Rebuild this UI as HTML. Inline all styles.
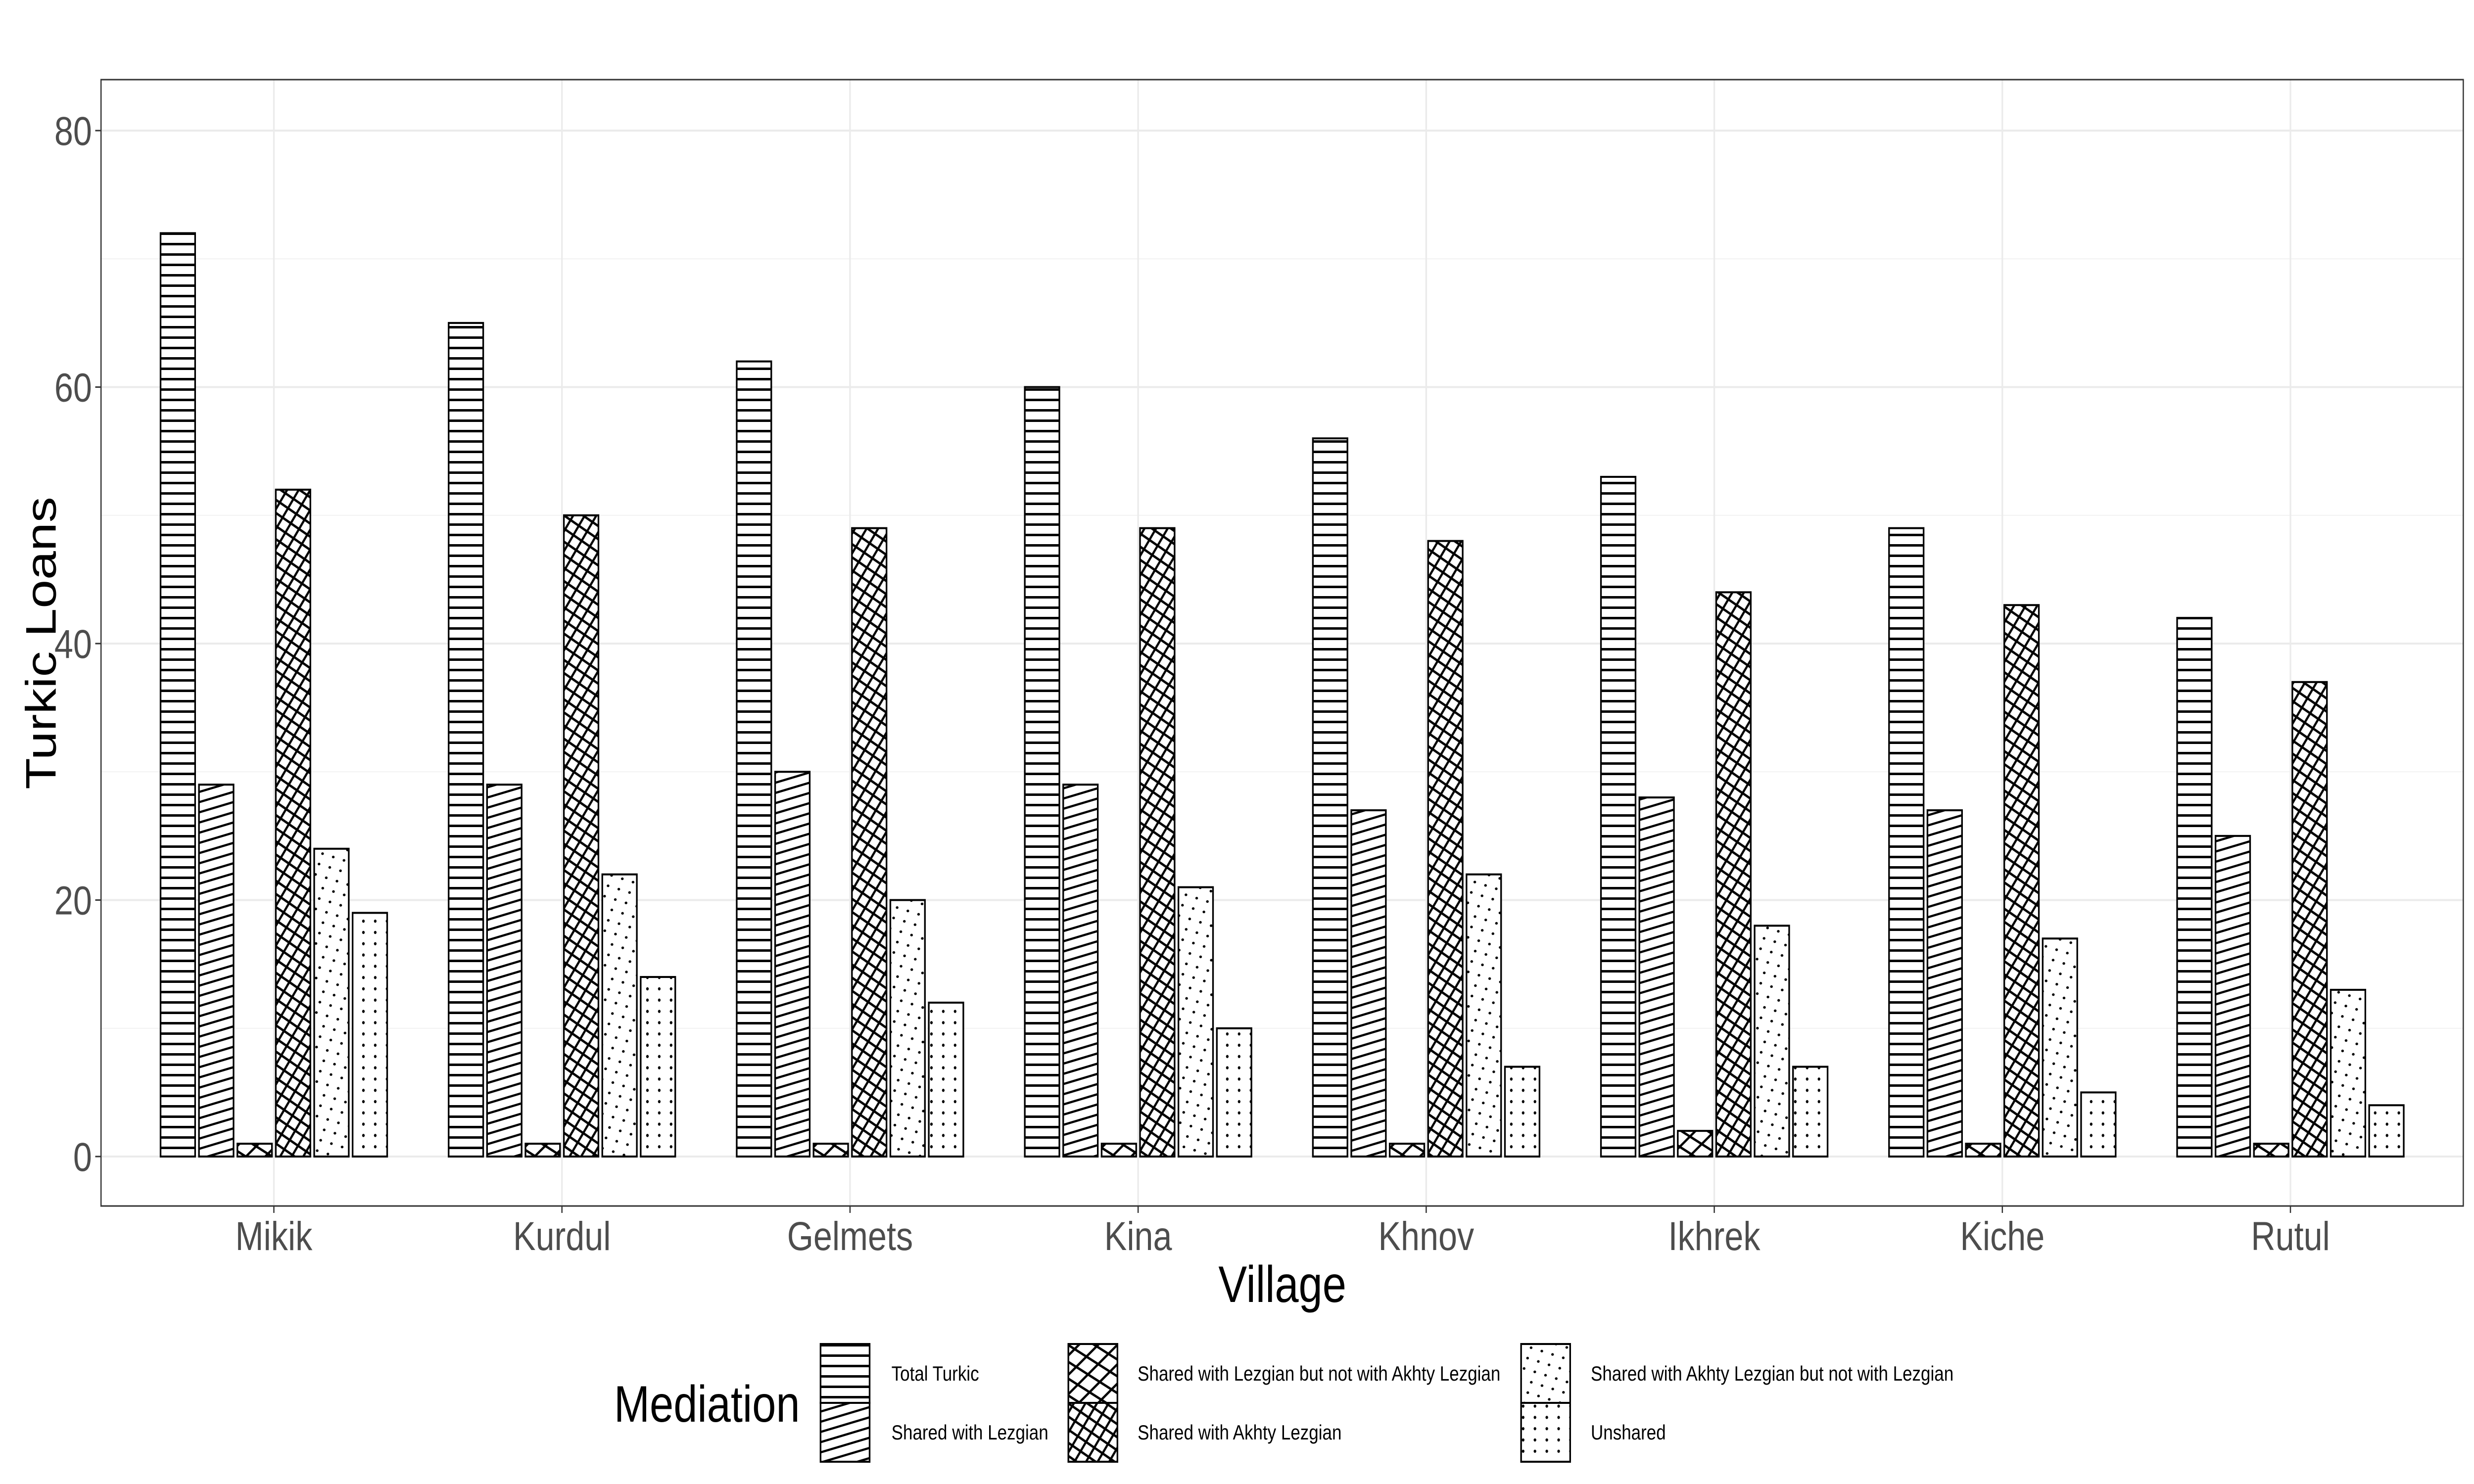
<!DOCTYPE html>
<html><head><meta charset="utf-8"><style>
html,body{margin:0;padding:0;background:#fff;overflow:hidden;width:100vw;height:100vh;}
svg{display:block;font-family:"Liberation Sans",sans-serif;width:100vw;height:100vh;}
</style></head><body>
<svg id="chart" viewBox="0 0 6000 3000" preserveAspectRatio="none" xmlns="http://www.w3.org/2000/svg">
<defs>
<pattern id="p0" patternUnits="userSpaceOnUse" width="40" height="21"><rect width="40" height="21" fill="#fff"/><rect y="8" width="40" height="5" fill="#000"/></pattern>
<pattern id="p1" patternUnits="userSpaceOnUse" width="40" height="20" patternTransform="rotate(-14)"><rect width="40" height="20" fill="#fff"/><rect y="8" width="40" height="4.5" fill="#000"/></pattern>
<pattern id="p2a" patternUnits="userSpaceOnUse" width="40" height="30" patternTransform="rotate(-40)"><rect y="12" width="40" height="5" fill="#000"/></pattern>
<pattern id="p2b" patternUnits="userSpaceOnUse" width="40" height="30" patternTransform="rotate(28)"><rect y="12" width="40" height="5" fill="#000"/></pattern>
<pattern id="p3a" patternUnits="userSpaceOnUse" width="40" height="23" patternTransform="rotate(-55)"><rect y="9" width="40" height="5" fill="#000"/></pattern>
<pattern id="p3b" patternUnits="userSpaceOnUse" width="40" height="23" patternTransform="rotate(30)"><rect y="9" width="40" height="5" fill="#000"/></pattern>
<pattern id="p4" patternUnits="userSpaceOnUse" width="1" height="1" patternTransform="matrix(26,6.8,-8.5,21,0,0)"><rect width="1" height="1" fill="#fff"/><circle cx="0.5" cy="0.5" r="0.12" fill="#000"/></pattern>
<pattern id="p5" patternUnits="userSpaceOnUse" width="28.7" height="22.8" x="6" y="4"><rect width="28.7" height="22.8" fill="#fff"/><circle cx="14.35" cy="11.4" r="3.2" fill="#000"/></pattern>
</defs>
<rect width="6000" height="3000" fill="#fff"/>
<g id="grid"></g>
<g id="bars"></g>
<rect x="245" y="161" width="5729" height="2277" fill="none" stroke="#333" stroke-width="3"/>
<g id="axes"></g>
<text transform="translate(135,1300) rotate(-90)" text-anchor="middle" font-size="104" fill="#000">Turkic Loans</text>
<text x="3110" y="2632" text-anchor="middle" font-size="104" fill="#000">Village</text>
<g id="legend">
<text x="1489" y="2874" font-size="104" fill="#000">Mediation</text>
</g>
</svg>
<script>
const villages = ["Mikik","Kurdul","Gelmets","Kina","Khnov","Ikhrek","Kiche","Rutul"];
const seriesNames = ["Total Turkic","Shared with Lezgian","Shared with Lezgian but not with Akhty Lezgian","Shared with Akhty Lezgian","Shared with Akhty Lezgian but not with Lezgian","Unshared"];
const totalTurkic = [72,65,62,60,56,53,49,42];
const sharedLezgian = [29,29,30,29,27,28,27,25];
const sharedLezNotAkhty = [1,1,1,1,1,2,1,1];
const sharedAkhty = [52,50,49,49,48,44,43,37];
const sharedAkhtyNotLez = [24,22,20,21,22,18,17,13];
const unshared = [19,14,12,10,7,7,5,4];
const yTicks = [0,20,40,60,80];
const yMinor = [10,30,50,70];

const series = [totalTurkic, sharedLezgian, sharedLezNotAkhty, sharedAkhty, sharedAkhtyNotLez, unshared];
const NS = "http://www.w3.org/2000/svg";
const L=245, R=5974, T=161, B=2438;
const y0px=2338, y80px=264;
function yScale(v){ return y0px + (y80px-y0px)*v/80; }
const unit=(R-L)/8.2;
function xScale(i){ return L + (i+1-0.4)*unit; }
const slot = unit*0.8/6, bw = slot*0.9;
function mk(tag, attrs, parent){ const e=document.createElementNS(NS,tag); for(const k in attrs) e.setAttribute(k,attrs[k]); parent.appendChild(e); return e; }

const grid=document.getElementById('grid');
yMinor.forEach(v=>{ const l=mk('line',{x1:L,x2:R,y1:yScale(v),y2:yScale(v),stroke:'#f2f2f2','stroke-width':2},grid);

 });
yTicks.forEach(v=>{ const l=mk('line',{x1:L,x2:R,y1:yScale(v),y2:yScale(v),stroke:'#ebebeb','stroke-width':4},grid);

 });
villages.forEach((v,i)=>{ const l=mk('line',{x1:xScale(i),x2:xScale(i),y1:T,y2:B,stroke:'#ebebeb','stroke-width':4},grid);

 });

const bars=document.getElementById('bars');
function fillPattern(j, g, x, y, w, h){
  if(j===2||j===3){
    const a = j===2?'p2a':'p3a', b = j===2?'p2b':'p3b';
    mk('rect',{x:x,y:y,width:w,height:h,fill:'#fff'},g);
    mk('rect',{x:x,y:y,width:w,height:h,fill:'url(#'+a+')'},g);
    mk('rect',{x:x,y:y,width:w,height:h,fill:'url(#'+b+')'},g);
  } else {
    mk('rect',{x:x,y:y,width:w,height:h,fill:'url(#p'+j+')'},g);
  }
  mk('rect',{x:x,y:y,width:w,height:h,fill:'none',stroke:'#000','stroke-width':4},g);
}
villages.forEach((vname,i)=>{
  series.forEach((s,j)=>{
    const cx = xScale(i) + (j-2.5)*slot;
    const yt = yScale(s[i]);
    const g = mk('g',{},bars);
    
    
    fillPattern(j,g,cx-bw/2,yt,bw,y0px-yt);
  });
});

const axes=document.getElementById('axes');
yTicks.forEach(v=>{
  mk('line',{x1:L-14,x2:L,y1:yScale(v),y2:yScale(v),stroke:'#333','stroke-width':3},axes);
  const t=mk('text',{x:L-22,y:yScale(v)+29,'text-anchor':'end','font-size':82,fill:'#4d4d4d'},axes);
  t.textContent=v;
  
  
});
villages.forEach((v,i)=>{
  mk('line',{x1:xScale(i),x2:xScale(i),y1:B,y2:B+14,stroke:'#333','stroke-width':3},axes);
  const t=mk('text',{x:xScale(i),y:B+89,'text-anchor':'middle','font-size':82,fill:'#4d4d4d'},axes);
  t.textContent=v;
  
  
});

const legend=document.getElementById('legend');
const keyX=[1990,1990,2591,2591,3689,3689], keyY=[2717,2836,2717,2836,2717,2836];
const labX=[2162,2162,2759,2759,3858,3858];
seriesNames.forEach((n,j)=>{
  const g=mk('g',{},legend);
  
  
  fillPattern(j,g,keyX[j],keyY[j],119,119);
  const t=mk('text',{x:labX[j],y:keyY[j]+74,'font-size':42,fill:'#000'},g);
  t.textContent=n;
});
</script>
</body></html>
